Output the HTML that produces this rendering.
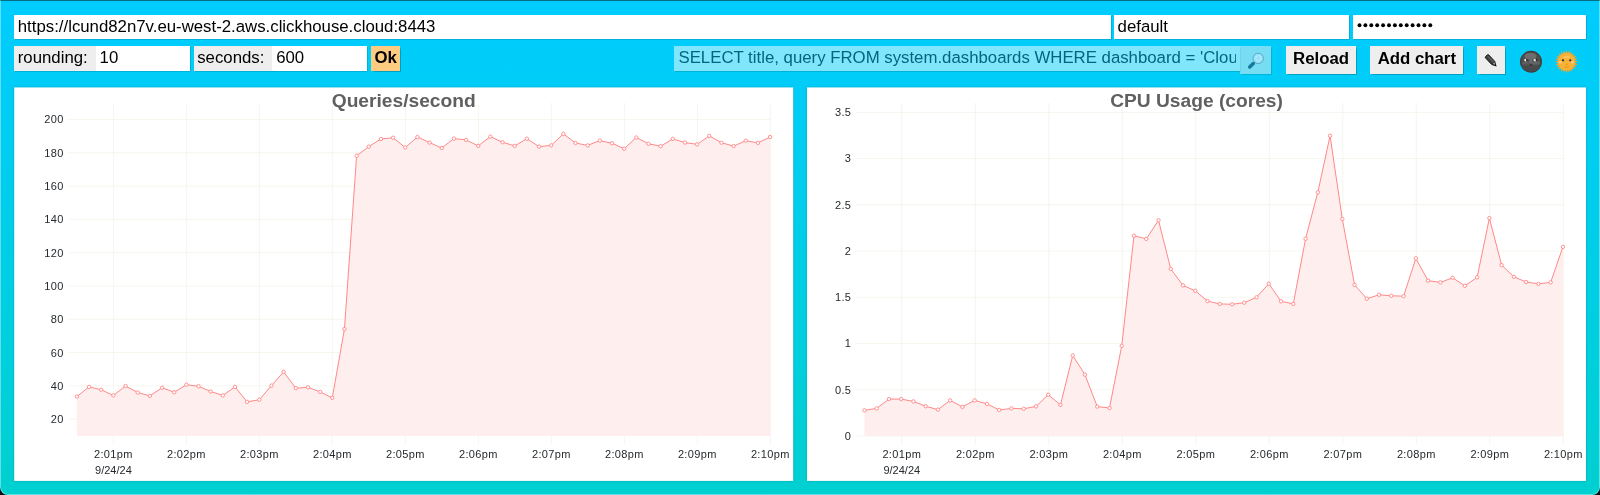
<!DOCTYPE html>
<html><head><meta charset="utf-8"><title>ClickHouse Dashboard</title>
<style>
html,body{margin:0;padding:0;}
html{background:#101010;}
body{width:1600px;height:495px;overflow:hidden;position:relative;font-family:"Liberation Sans",sans-serif;
background:linear-gradient(to bottom,#00CCFF,#00D0D0);color:#000;border-radius:0 0 8px 8px;}
.frame{left:0;top:0;width:1600px;height:495px;border-radius:0 0 8px 8px;border:1px solid rgba(255,255,255,0.38);border-top:1px solid #0b6b85;pointer-events:none;}
.abs{position:absolute;box-sizing:border-box;}
.inp{box-shadow:0.5px 0.5px 0.5px rgba(0,0,0,0.13);background:#fff;font-size:16.8px;line-height:23.2px;height:24px;padding-left:3.6px;white-space:nowrap;overflow:hidden;}
.lab{background:#eee;}
.r2{top:46.1px;height:24.5px;line-height:24.4px;}
.btn{background:#eee;font-size:16.8px;font-weight:bold;text-align:center;white-space:nowrap;height:27.5px;line-height:26.8px;top:46.1px;box-shadow:0.5px 0.5px 1px rgba(0,0,0,0.22);}
svg{position:absolute;left:0;top:0;}
body{filter:opacity(1);}
.ax{font-family:"Liberation Sans",sans-serif;font-size:11px;fill:#252a2d;}
.ttl{font-family:"Liberation Sans",sans-serif;font-size:19.2px;font-weight:bold;fill:#606060;}
</style></head><body>
<div class="abs frame"></div>
<div class="abs inp" style="left:14.2px;top:15px;width:1096.8px">https://lcund82n7v.eu-west-2.aws.clickhouse.cloud:8443</div>
<div class="abs inp" style="left:1114px;top:15px;width:235.4px">default</div>
<div class="abs inp" style="left:1353px;top:15px;width:233px"></div>
<div class="abs inp lab r2" style="left:14.2px;width:82px">rounding:</div>
<div class="abs inp r2" style="left:96px;width:94.3px;padding-left:3.6px">10</div>
<div class="abs inp lab r2" style="left:193.6px;width:79px">seconds:</div>
<div class="abs inp r2" style="left:272.4px;width:94.7px;padding-left:3.8px">600</div>
<div class="abs btn" style="left:371px;width:29.3px;height:24.5px;line-height:23.5px;background:#FFCB80">Ok</div>
<div class="abs inp r2" style="left:674.1px;width:566.2px;background:rgba(255,255,255,0.5);color:#006680;padding-left:4.4px"><span style="display:block;width:557.6px;overflow:hidden">SELECT title, query FROM system.dashboards WHERE dashboard = 'Clou</span></div>
<div class="abs" style="left:1240.3px;top:46.1px;width:30.7px;height:27.5px;background:rgba(238,238,238,0.5);box-shadow:0.5px 0.5px 1px rgba(0,0,0,0.12)"></div>
<div class="abs btn" style="left:1286px;width:70.2px">Reload</div>
<div class="abs btn" style="left:1370.4px;width:92.9px">Add chart</div>
<div class="abs btn" style="left:1477px;width:28.1px"></div>
<svg width="1600" height="495" viewBox="0 0 1600 495">
<defs><filter id="sh" x="-2%" y="-2%" width="104%" height="104%"><feGaussianBlur stdDeviation="0.9"/></filter></defs>
<rect x="14.2" y="87.4" width="779" height="393.5" fill="#000" opacity="0.22" filter="url(#sh)"/>
<rect x="807" y="87.4" width="779" height="393.5" fill="#000" opacity="0.22" filter="url(#sh)"/>
<rect x="14.2" y="87.4" width="779" height="393.5" fill="#fff"/>
<rect x="807" y="87.4" width="779" height="393.5" fill="#fff"/>
<line x1="68.40" y1="119.50" x2="770.31" y2="119.50" stroke="#f6f6ee" stroke-width="1"/>
<line x1="68.40" y1="152.80" x2="770.31" y2="152.80" stroke="#f6f6ee" stroke-width="1"/>
<line x1="68.40" y1="186.10" x2="770.31" y2="186.10" stroke="#f6f6ee" stroke-width="1"/>
<line x1="68.40" y1="219.40" x2="770.31" y2="219.40" stroke="#f6f6ee" stroke-width="1"/>
<line x1="68.40" y1="252.70" x2="770.31" y2="252.70" stroke="#f6f6ee" stroke-width="1"/>
<line x1="68.40" y1="286.00" x2="770.31" y2="286.00" stroke="#f6f6ee" stroke-width="1"/>
<line x1="68.40" y1="319.30" x2="770.31" y2="319.30" stroke="#f6f6ee" stroke-width="1"/>
<line x1="68.40" y1="352.60" x2="770.31" y2="352.60" stroke="#f6f6ee" stroke-width="1"/>
<line x1="68.40" y1="385.90" x2="770.31" y2="385.90" stroke="#f6f6ee" stroke-width="1"/>
<line x1="68.40" y1="419.20" x2="770.31" y2="419.20" stroke="#f6f6ee" stroke-width="1"/>
<line x1="113.40" y1="102.7" x2="113.40" y2="444.3" stroke="#f6f6ee" stroke-width="1"/>
<line x1="186.39" y1="102.7" x2="186.39" y2="444.3" stroke="#f6f6ee" stroke-width="1"/>
<line x1="259.38" y1="102.7" x2="259.38" y2="444.3" stroke="#f6f6ee" stroke-width="1"/>
<line x1="332.37" y1="102.7" x2="332.37" y2="444.3" stroke="#f6f6ee" stroke-width="1"/>
<line x1="405.36" y1="102.7" x2="405.36" y2="444.3" stroke="#f6f6ee" stroke-width="1"/>
<line x1="478.35" y1="102.7" x2="478.35" y2="444.3" stroke="#f6f6ee" stroke-width="1"/>
<line x1="551.34" y1="102.7" x2="551.34" y2="444.3" stroke="#f6f6ee" stroke-width="1"/>
<line x1="624.33" y1="102.7" x2="624.33" y2="444.3" stroke="#f6f6ee" stroke-width="1"/>
<line x1="697.32" y1="102.7" x2="697.32" y2="444.3" stroke="#f6f6ee" stroke-width="1"/>
<line x1="770.31" y1="102.7" x2="770.31" y2="444.3" stroke="#f6f6ee" stroke-width="1"/>
<polygon points="76.90,436.0 76.90,396.60 89.06,386.90 101.22,389.75 113.38,395.40 125.55,386.00 137.71,392.50 149.87,395.90 162.03,387.75 174.19,392.25 186.35,384.75 198.51,386.25 210.68,391.50 222.84,395.40 235.00,386.90 247.16,401.90 259.32,399.70 271.48,385.60 283.64,371.80 295.81,388.20 307.97,387.30 320.13,391.90 332.29,397.90 344.45,329.10 356.61,155.75 368.77,146.60 380.94,139.00 393.10,137.75 405.26,147.50 417.42,137.00 429.58,142.60 441.74,148.00 453.90,138.60 466.06,139.90 478.23,145.90 490.39,136.60 502.55,142.25 514.71,145.90 526.87,138.70 539.03,146.60 551.19,145.40 563.36,133.90 575.52,143.00 587.68,145.40 599.84,140.60 612.00,143.25 624.16,148.75 636.32,137.50 648.49,143.80 660.65,146.20 672.81,138.90 684.97,142.60 697.13,144.35 709.29,135.90 721.45,142.70 733.62,146.10 745.78,140.70 757.94,142.85 770.10,137.00 770.10,436.0" fill="#ffeeee"/>
<polyline points="76.90,396.60 89.06,386.90 101.22,389.75 113.38,395.40 125.55,386.00 137.71,392.50 149.87,395.90 162.03,387.75 174.19,392.25 186.35,384.75 198.51,386.25 210.68,391.50 222.84,395.40 235.00,386.90 247.16,401.90 259.32,399.70 271.48,385.60 283.64,371.80 295.81,388.20 307.97,387.30 320.13,391.90 332.29,397.90 344.45,329.10 356.61,155.75 368.77,146.60 380.94,139.00 393.10,137.75 405.26,147.50 417.42,137.00 429.58,142.60 441.74,148.00 453.90,138.60 466.06,139.90 478.23,145.90 490.39,136.60 502.55,142.25 514.71,145.90 526.87,138.70 539.03,146.60 551.19,145.40 563.36,133.90 575.52,143.00 587.68,145.40 599.84,140.60 612.00,143.25 624.16,148.75 636.32,137.50 648.49,143.80 660.65,146.20 672.81,138.90 684.97,142.60 697.13,144.35 709.29,135.90 721.45,142.70 733.62,146.10 745.78,140.70 757.94,142.85 770.10,137.00" fill="none" stroke="#ff8888" stroke-width="1" stroke-linejoin="round"/>
<circle cx="76.90" cy="396.60" r="1.7" fill="#fff" stroke="#ff8888" stroke-width="0.9"/>
<circle cx="89.06" cy="386.90" r="1.7" fill="#fff" stroke="#ff8888" stroke-width="0.9"/>
<circle cx="101.22" cy="389.75" r="1.7" fill="#fff" stroke="#ff8888" stroke-width="0.9"/>
<circle cx="113.38" cy="395.40" r="1.7" fill="#fff" stroke="#ff8888" stroke-width="0.9"/>
<circle cx="125.55" cy="386.00" r="1.7" fill="#fff" stroke="#ff8888" stroke-width="0.9"/>
<circle cx="137.71" cy="392.50" r="1.7" fill="#fff" stroke="#ff8888" stroke-width="0.9"/>
<circle cx="149.87" cy="395.90" r="1.7" fill="#fff" stroke="#ff8888" stroke-width="0.9"/>
<circle cx="162.03" cy="387.75" r="1.7" fill="#fff" stroke="#ff8888" stroke-width="0.9"/>
<circle cx="174.19" cy="392.25" r="1.7" fill="#fff" stroke="#ff8888" stroke-width="0.9"/>
<circle cx="186.35" cy="384.75" r="1.7" fill="#fff" stroke="#ff8888" stroke-width="0.9"/>
<circle cx="198.51" cy="386.25" r="1.7" fill="#fff" stroke="#ff8888" stroke-width="0.9"/>
<circle cx="210.68" cy="391.50" r="1.7" fill="#fff" stroke="#ff8888" stroke-width="0.9"/>
<circle cx="222.84" cy="395.40" r="1.7" fill="#fff" stroke="#ff8888" stroke-width="0.9"/>
<circle cx="235.00" cy="386.90" r="1.7" fill="#fff" stroke="#ff8888" stroke-width="0.9"/>
<circle cx="247.16" cy="401.90" r="1.7" fill="#fff" stroke="#ff8888" stroke-width="0.9"/>
<circle cx="259.32" cy="399.70" r="1.7" fill="#fff" stroke="#ff8888" stroke-width="0.9"/>
<circle cx="271.48" cy="385.60" r="1.7" fill="#fff" stroke="#ff8888" stroke-width="0.9"/>
<circle cx="283.64" cy="371.80" r="1.7" fill="#fff" stroke="#ff8888" stroke-width="0.9"/>
<circle cx="295.81" cy="388.20" r="1.7" fill="#fff" stroke="#ff8888" stroke-width="0.9"/>
<circle cx="307.97" cy="387.30" r="1.7" fill="#fff" stroke="#ff8888" stroke-width="0.9"/>
<circle cx="320.13" cy="391.90" r="1.7" fill="#fff" stroke="#ff8888" stroke-width="0.9"/>
<circle cx="332.29" cy="397.90" r="1.7" fill="#fff" stroke="#ff8888" stroke-width="0.9"/>
<circle cx="344.45" cy="329.10" r="1.7" fill="#fff" stroke="#ff8888" stroke-width="0.9"/>
<circle cx="356.61" cy="155.75" r="1.7" fill="#fff" stroke="#ff8888" stroke-width="0.9"/>
<circle cx="368.77" cy="146.60" r="1.7" fill="#fff" stroke="#ff8888" stroke-width="0.9"/>
<circle cx="380.94" cy="139.00" r="1.7" fill="#fff" stroke="#ff8888" stroke-width="0.9"/>
<circle cx="393.10" cy="137.75" r="1.7" fill="#fff" stroke="#ff8888" stroke-width="0.9"/>
<circle cx="405.26" cy="147.50" r="1.7" fill="#fff" stroke="#ff8888" stroke-width="0.9"/>
<circle cx="417.42" cy="137.00" r="1.7" fill="#fff" stroke="#ff8888" stroke-width="0.9"/>
<circle cx="429.58" cy="142.60" r="1.7" fill="#fff" stroke="#ff8888" stroke-width="0.9"/>
<circle cx="441.74" cy="148.00" r="1.7" fill="#fff" stroke="#ff8888" stroke-width="0.9"/>
<circle cx="453.90" cy="138.60" r="1.7" fill="#fff" stroke="#ff8888" stroke-width="0.9"/>
<circle cx="466.06" cy="139.90" r="1.7" fill="#fff" stroke="#ff8888" stroke-width="0.9"/>
<circle cx="478.23" cy="145.90" r="1.7" fill="#fff" stroke="#ff8888" stroke-width="0.9"/>
<circle cx="490.39" cy="136.60" r="1.7" fill="#fff" stroke="#ff8888" stroke-width="0.9"/>
<circle cx="502.55" cy="142.25" r="1.7" fill="#fff" stroke="#ff8888" stroke-width="0.9"/>
<circle cx="514.71" cy="145.90" r="1.7" fill="#fff" stroke="#ff8888" stroke-width="0.9"/>
<circle cx="526.87" cy="138.70" r="1.7" fill="#fff" stroke="#ff8888" stroke-width="0.9"/>
<circle cx="539.03" cy="146.60" r="1.7" fill="#fff" stroke="#ff8888" stroke-width="0.9"/>
<circle cx="551.19" cy="145.40" r="1.7" fill="#fff" stroke="#ff8888" stroke-width="0.9"/>
<circle cx="563.36" cy="133.90" r="1.7" fill="#fff" stroke="#ff8888" stroke-width="0.9"/>
<circle cx="575.52" cy="143.00" r="1.7" fill="#fff" stroke="#ff8888" stroke-width="0.9"/>
<circle cx="587.68" cy="145.40" r="1.7" fill="#fff" stroke="#ff8888" stroke-width="0.9"/>
<circle cx="599.84" cy="140.60" r="1.7" fill="#fff" stroke="#ff8888" stroke-width="0.9"/>
<circle cx="612.00" cy="143.25" r="1.7" fill="#fff" stroke="#ff8888" stroke-width="0.9"/>
<circle cx="624.16" cy="148.75" r="1.7" fill="#fff" stroke="#ff8888" stroke-width="0.9"/>
<circle cx="636.32" cy="137.50" r="1.7" fill="#fff" stroke="#ff8888" stroke-width="0.9"/>
<circle cx="648.49" cy="143.80" r="1.7" fill="#fff" stroke="#ff8888" stroke-width="0.9"/>
<circle cx="660.65" cy="146.20" r="1.7" fill="#fff" stroke="#ff8888" stroke-width="0.9"/>
<circle cx="672.81" cy="138.90" r="1.7" fill="#fff" stroke="#ff8888" stroke-width="0.9"/>
<circle cx="684.97" cy="142.60" r="1.7" fill="#fff" stroke="#ff8888" stroke-width="0.9"/>
<circle cx="697.13" cy="144.35" r="1.7" fill="#fff" stroke="#ff8888" stroke-width="0.9"/>
<circle cx="709.29" cy="135.90" r="1.7" fill="#fff" stroke="#ff8888" stroke-width="0.9"/>
<circle cx="721.45" cy="142.70" r="1.7" fill="#fff" stroke="#ff8888" stroke-width="0.9"/>
<circle cx="733.62" cy="146.10" r="1.7" fill="#fff" stroke="#ff8888" stroke-width="0.9"/>
<circle cx="745.78" cy="140.70" r="1.7" fill="#fff" stroke="#ff8888" stroke-width="0.9"/>
<circle cx="757.94" cy="142.85" r="1.7" fill="#fff" stroke="#ff8888" stroke-width="0.9"/>
<circle cx="770.10" cy="137.00" r="1.7" fill="#fff" stroke="#ff8888" stroke-width="0.9"/>
<text x="63.6" y="123.40" text-anchor="end" class="ax" letter-spacing="0.3">200</text>
<text x="63.6" y="156.70" text-anchor="end" class="ax" letter-spacing="0.3">180</text>
<text x="63.6" y="190.00" text-anchor="end" class="ax" letter-spacing="0.3">160</text>
<text x="63.6" y="223.30" text-anchor="end" class="ax" letter-spacing="0.3">140</text>
<text x="63.6" y="256.60" text-anchor="end" class="ax" letter-spacing="0.3">120</text>
<text x="63.6" y="289.90" text-anchor="end" class="ax" letter-spacing="0.3">100</text>
<text x="63.6" y="323.20" text-anchor="end" class="ax" letter-spacing="0.3">80</text>
<text x="63.6" y="356.50" text-anchor="end" class="ax" letter-spacing="0.3">60</text>
<text x="63.6" y="389.80" text-anchor="end" class="ax" letter-spacing="0.3">40</text>
<text x="63.6" y="423.10" text-anchor="end" class="ax" letter-spacing="0.3">20</text>
<text x="113.40" y="458" text-anchor="middle" class="ax" letter-spacing="0.35">2:01pm</text>
<text x="186.39" y="458" text-anchor="middle" class="ax" letter-spacing="0.35">2:02pm</text>
<text x="259.38" y="458" text-anchor="middle" class="ax" letter-spacing="0.35">2:03pm</text>
<text x="332.37" y="458" text-anchor="middle" class="ax" letter-spacing="0.35">2:04pm</text>
<text x="405.36" y="458" text-anchor="middle" class="ax" letter-spacing="0.35">2:05pm</text>
<text x="478.35" y="458" text-anchor="middle" class="ax" letter-spacing="0.35">2:06pm</text>
<text x="551.34" y="458" text-anchor="middle" class="ax" letter-spacing="0.35">2:07pm</text>
<text x="624.33" y="458" text-anchor="middle" class="ax" letter-spacing="0.35">2:08pm</text>
<text x="697.32" y="458" text-anchor="middle" class="ax" letter-spacing="0.35">2:09pm</text>
<text x="770.31" y="458" text-anchor="middle" class="ax" letter-spacing="0.35">2:10pm</text>
<text x="113.40" y="474.3" text-anchor="middle" class="ax">9/24/24</text>
<text x="403.7" y="106.7" text-anchor="middle" class="ttl">Queries/second</text>
<line x1="855.50" y1="436.00" x2="1563.30" y2="436.00" stroke="#f6f6ee" stroke-width="1"/>
<line x1="855.50" y1="389.76" x2="1563.30" y2="389.76" stroke="#f6f6ee" stroke-width="1"/>
<line x1="855.50" y1="343.52" x2="1563.30" y2="343.52" stroke="#f6f6ee" stroke-width="1"/>
<line x1="855.50" y1="297.28" x2="1563.30" y2="297.28" stroke="#f6f6ee" stroke-width="1"/>
<line x1="855.50" y1="251.04" x2="1563.30" y2="251.04" stroke="#f6f6ee" stroke-width="1"/>
<line x1="855.50" y1="204.80" x2="1563.30" y2="204.80" stroke="#f6f6ee" stroke-width="1"/>
<line x1="855.50" y1="158.56" x2="1563.30" y2="158.56" stroke="#f6f6ee" stroke-width="1"/>
<line x1="855.50" y1="112.32" x2="1563.30" y2="112.32" stroke="#f6f6ee" stroke-width="1"/>
<line x1="901.80" y1="102.7" x2="901.80" y2="444.3" stroke="#f6f6ee" stroke-width="1"/>
<line x1="975.30" y1="102.7" x2="975.30" y2="444.3" stroke="#f6f6ee" stroke-width="1"/>
<line x1="1048.80" y1="102.7" x2="1048.80" y2="444.3" stroke="#f6f6ee" stroke-width="1"/>
<line x1="1122.30" y1="102.7" x2="1122.30" y2="444.3" stroke="#f6f6ee" stroke-width="1"/>
<line x1="1195.80" y1="102.7" x2="1195.80" y2="444.3" stroke="#f6f6ee" stroke-width="1"/>
<line x1="1269.30" y1="102.7" x2="1269.30" y2="444.3" stroke="#f6f6ee" stroke-width="1"/>
<line x1="1342.80" y1="102.7" x2="1342.80" y2="444.3" stroke="#f6f6ee" stroke-width="1"/>
<line x1="1416.30" y1="102.7" x2="1416.30" y2="444.3" stroke="#f6f6ee" stroke-width="1"/>
<line x1="1489.80" y1="102.7" x2="1489.80" y2="444.3" stroke="#f6f6ee" stroke-width="1"/>
<line x1="1563.30" y1="102.7" x2="1563.30" y2="444.3" stroke="#f6f6ee" stroke-width="1"/>
<polygon points="864.40,436.0 864.40,410.40 876.65,408.40 888.91,399.10 901.16,399.10 913.42,401.40 925.67,406.25 937.93,409.60 950.18,400.40 962.44,406.90 974.69,400.40 986.94,403.90 999.20,410.00 1011.45,408.40 1023.71,408.75 1035.96,406.40 1048.22,394.70 1060.47,404.90 1072.72,355.50 1084.98,374.70 1097.23,406.60 1109.49,408.00 1121.74,345.80 1134.00,235.70 1146.25,238.90 1158.51,220.30 1170.76,269.00 1183.01,285.40 1195.27,290.80 1207.52,301.10 1219.78,303.90 1232.03,304.30 1244.29,302.70 1256.54,297.30 1268.79,283.70 1281.05,301.30 1293.30,303.90 1305.56,238.80 1317.81,192.30 1330.07,135.70 1342.32,219.10 1354.58,284.90 1366.83,298.70 1379.08,294.80 1391.34,295.80 1403.59,296.20 1415.85,258.40 1428.10,280.70 1440.36,282.40 1452.61,277.80 1464.86,285.80 1477.12,277.40 1489.37,218.10 1501.63,265.10 1513.88,276.80 1526.14,282.00 1538.39,283.80 1550.65,282.40 1562.90,246.90 1562.90,436.0" fill="#ffeeee"/>
<polyline points="864.40,410.40 876.65,408.40 888.91,399.10 901.16,399.10 913.42,401.40 925.67,406.25 937.93,409.60 950.18,400.40 962.44,406.90 974.69,400.40 986.94,403.90 999.20,410.00 1011.45,408.40 1023.71,408.75 1035.96,406.40 1048.22,394.70 1060.47,404.90 1072.72,355.50 1084.98,374.70 1097.23,406.60 1109.49,408.00 1121.74,345.80 1134.00,235.70 1146.25,238.90 1158.51,220.30 1170.76,269.00 1183.01,285.40 1195.27,290.80 1207.52,301.10 1219.78,303.90 1232.03,304.30 1244.29,302.70 1256.54,297.30 1268.79,283.70 1281.05,301.30 1293.30,303.90 1305.56,238.80 1317.81,192.30 1330.07,135.70 1342.32,219.10 1354.58,284.90 1366.83,298.70 1379.08,294.80 1391.34,295.80 1403.59,296.20 1415.85,258.40 1428.10,280.70 1440.36,282.40 1452.61,277.80 1464.86,285.80 1477.12,277.40 1489.37,218.10 1501.63,265.10 1513.88,276.80 1526.14,282.00 1538.39,283.80 1550.65,282.40 1562.90,246.90" fill="none" stroke="#ff8888" stroke-width="1" stroke-linejoin="round"/>
<circle cx="864.40" cy="410.40" r="1.7" fill="#fff" stroke="#ff8888" stroke-width="0.9"/>
<circle cx="876.65" cy="408.40" r="1.7" fill="#fff" stroke="#ff8888" stroke-width="0.9"/>
<circle cx="888.91" cy="399.10" r="1.7" fill="#fff" stroke="#ff8888" stroke-width="0.9"/>
<circle cx="901.16" cy="399.10" r="1.7" fill="#fff" stroke="#ff8888" stroke-width="0.9"/>
<circle cx="913.42" cy="401.40" r="1.7" fill="#fff" stroke="#ff8888" stroke-width="0.9"/>
<circle cx="925.67" cy="406.25" r="1.7" fill="#fff" stroke="#ff8888" stroke-width="0.9"/>
<circle cx="937.93" cy="409.60" r="1.7" fill="#fff" stroke="#ff8888" stroke-width="0.9"/>
<circle cx="950.18" cy="400.40" r="1.7" fill="#fff" stroke="#ff8888" stroke-width="0.9"/>
<circle cx="962.44" cy="406.90" r="1.7" fill="#fff" stroke="#ff8888" stroke-width="0.9"/>
<circle cx="974.69" cy="400.40" r="1.7" fill="#fff" stroke="#ff8888" stroke-width="0.9"/>
<circle cx="986.94" cy="403.90" r="1.7" fill="#fff" stroke="#ff8888" stroke-width="0.9"/>
<circle cx="999.20" cy="410.00" r="1.7" fill="#fff" stroke="#ff8888" stroke-width="0.9"/>
<circle cx="1011.45" cy="408.40" r="1.7" fill="#fff" stroke="#ff8888" stroke-width="0.9"/>
<circle cx="1023.71" cy="408.75" r="1.7" fill="#fff" stroke="#ff8888" stroke-width="0.9"/>
<circle cx="1035.96" cy="406.40" r="1.7" fill="#fff" stroke="#ff8888" stroke-width="0.9"/>
<circle cx="1048.22" cy="394.70" r="1.7" fill="#fff" stroke="#ff8888" stroke-width="0.9"/>
<circle cx="1060.47" cy="404.90" r="1.7" fill="#fff" stroke="#ff8888" stroke-width="0.9"/>
<circle cx="1072.72" cy="355.50" r="1.7" fill="#fff" stroke="#ff8888" stroke-width="0.9"/>
<circle cx="1084.98" cy="374.70" r="1.7" fill="#fff" stroke="#ff8888" stroke-width="0.9"/>
<circle cx="1097.23" cy="406.60" r="1.7" fill="#fff" stroke="#ff8888" stroke-width="0.9"/>
<circle cx="1109.49" cy="408.00" r="1.7" fill="#fff" stroke="#ff8888" stroke-width="0.9"/>
<circle cx="1121.74" cy="345.80" r="1.7" fill="#fff" stroke="#ff8888" stroke-width="0.9"/>
<circle cx="1134.00" cy="235.70" r="1.7" fill="#fff" stroke="#ff8888" stroke-width="0.9"/>
<circle cx="1146.25" cy="238.90" r="1.7" fill="#fff" stroke="#ff8888" stroke-width="0.9"/>
<circle cx="1158.51" cy="220.30" r="1.7" fill="#fff" stroke="#ff8888" stroke-width="0.9"/>
<circle cx="1170.76" cy="269.00" r="1.7" fill="#fff" stroke="#ff8888" stroke-width="0.9"/>
<circle cx="1183.01" cy="285.40" r="1.7" fill="#fff" stroke="#ff8888" stroke-width="0.9"/>
<circle cx="1195.27" cy="290.80" r="1.7" fill="#fff" stroke="#ff8888" stroke-width="0.9"/>
<circle cx="1207.52" cy="301.10" r="1.7" fill="#fff" stroke="#ff8888" stroke-width="0.9"/>
<circle cx="1219.78" cy="303.90" r="1.7" fill="#fff" stroke="#ff8888" stroke-width="0.9"/>
<circle cx="1232.03" cy="304.30" r="1.7" fill="#fff" stroke="#ff8888" stroke-width="0.9"/>
<circle cx="1244.29" cy="302.70" r="1.7" fill="#fff" stroke="#ff8888" stroke-width="0.9"/>
<circle cx="1256.54" cy="297.30" r="1.7" fill="#fff" stroke="#ff8888" stroke-width="0.9"/>
<circle cx="1268.79" cy="283.70" r="1.7" fill="#fff" stroke="#ff8888" stroke-width="0.9"/>
<circle cx="1281.05" cy="301.30" r="1.7" fill="#fff" stroke="#ff8888" stroke-width="0.9"/>
<circle cx="1293.30" cy="303.90" r="1.7" fill="#fff" stroke="#ff8888" stroke-width="0.9"/>
<circle cx="1305.56" cy="238.80" r="1.7" fill="#fff" stroke="#ff8888" stroke-width="0.9"/>
<circle cx="1317.81" cy="192.30" r="1.7" fill="#fff" stroke="#ff8888" stroke-width="0.9"/>
<circle cx="1330.07" cy="135.70" r="1.7" fill="#fff" stroke="#ff8888" stroke-width="0.9"/>
<circle cx="1342.32" cy="219.10" r="1.7" fill="#fff" stroke="#ff8888" stroke-width="0.9"/>
<circle cx="1354.58" cy="284.90" r="1.7" fill="#fff" stroke="#ff8888" stroke-width="0.9"/>
<circle cx="1366.83" cy="298.70" r="1.7" fill="#fff" stroke="#ff8888" stroke-width="0.9"/>
<circle cx="1379.08" cy="294.80" r="1.7" fill="#fff" stroke="#ff8888" stroke-width="0.9"/>
<circle cx="1391.34" cy="295.80" r="1.7" fill="#fff" stroke="#ff8888" stroke-width="0.9"/>
<circle cx="1403.59" cy="296.20" r="1.7" fill="#fff" stroke="#ff8888" stroke-width="0.9"/>
<circle cx="1415.85" cy="258.40" r="1.7" fill="#fff" stroke="#ff8888" stroke-width="0.9"/>
<circle cx="1428.10" cy="280.70" r="1.7" fill="#fff" stroke="#ff8888" stroke-width="0.9"/>
<circle cx="1440.36" cy="282.40" r="1.7" fill="#fff" stroke="#ff8888" stroke-width="0.9"/>
<circle cx="1452.61" cy="277.80" r="1.7" fill="#fff" stroke="#ff8888" stroke-width="0.9"/>
<circle cx="1464.86" cy="285.80" r="1.7" fill="#fff" stroke="#ff8888" stroke-width="0.9"/>
<circle cx="1477.12" cy="277.40" r="1.7" fill="#fff" stroke="#ff8888" stroke-width="0.9"/>
<circle cx="1489.37" cy="218.10" r="1.7" fill="#fff" stroke="#ff8888" stroke-width="0.9"/>
<circle cx="1501.63" cy="265.10" r="1.7" fill="#fff" stroke="#ff8888" stroke-width="0.9"/>
<circle cx="1513.88" cy="276.80" r="1.7" fill="#fff" stroke="#ff8888" stroke-width="0.9"/>
<circle cx="1526.14" cy="282.00" r="1.7" fill="#fff" stroke="#ff8888" stroke-width="0.9"/>
<circle cx="1538.39" cy="283.80" r="1.7" fill="#fff" stroke="#ff8888" stroke-width="0.9"/>
<circle cx="1550.65" cy="282.40" r="1.7" fill="#fff" stroke="#ff8888" stroke-width="0.9"/>
<circle cx="1562.90" cy="246.90" r="1.7" fill="#fff" stroke="#ff8888" stroke-width="0.9"/>
<text x="851.2" y="439.90" text-anchor="end" class="ax" letter-spacing="0.3">0</text>
<text x="851.2" y="393.66" text-anchor="end" class="ax" letter-spacing="0.3">0.5</text>
<text x="851.2" y="347.42" text-anchor="end" class="ax" letter-spacing="0.3">1</text>
<text x="851.2" y="301.18" text-anchor="end" class="ax" letter-spacing="0.3">1.5</text>
<text x="851.2" y="254.94" text-anchor="end" class="ax" letter-spacing="0.3">2</text>
<text x="851.2" y="208.70" text-anchor="end" class="ax" letter-spacing="0.3">2.5</text>
<text x="851.2" y="162.46" text-anchor="end" class="ax" letter-spacing="0.3">3</text>
<text x="851.2" y="116.22" text-anchor="end" class="ax" letter-spacing="0.3">3.5</text>
<text x="901.80" y="458" text-anchor="middle" class="ax" letter-spacing="0.35">2:01pm</text>
<text x="975.30" y="458" text-anchor="middle" class="ax" letter-spacing="0.35">2:02pm</text>
<text x="1048.80" y="458" text-anchor="middle" class="ax" letter-spacing="0.35">2:03pm</text>
<text x="1122.30" y="458" text-anchor="middle" class="ax" letter-spacing="0.35">2:04pm</text>
<text x="1195.80" y="458" text-anchor="middle" class="ax" letter-spacing="0.35">2:05pm</text>
<text x="1269.30" y="458" text-anchor="middle" class="ax" letter-spacing="0.35">2:06pm</text>
<text x="1342.80" y="458" text-anchor="middle" class="ax" letter-spacing="0.35">2:07pm</text>
<text x="1416.30" y="458" text-anchor="middle" class="ax" letter-spacing="0.35">2:08pm</text>
<text x="1489.80" y="458" text-anchor="middle" class="ax" letter-spacing="0.35">2:09pm</text>
<text x="1563.30" y="458" text-anchor="middle" class="ax" letter-spacing="0.35">2:10pm</text>
<text x="901.80" y="474.3" text-anchor="middle" class="ax">9/24/24</text>
<text x="1196.5" y="106.7" text-anchor="middle" class="ttl">CPU Usage (cores)</text>
<g>
<line x1="1254.6" y1="62.2" x2="1253" y2="63.8" stroke="#4fa3bd" stroke-width="1.6"/><line x1="1253.3" y1="63.5" x2="1249.7" y2="67.0" stroke="#167a99" stroke-width="3.5" stroke-linecap="round"/>
<circle cx="1258.2" cy="58.4" r="5.2" fill="#93e2f9" stroke="#5aaac4" stroke-width="1"/>
<circle cx="1258.4" cy="58.2" r="2.6" fill="none" stroke="#b9eefc" stroke-width="1"/>
</g>
<g transform="translate(1487.3 56.6) rotate(47)">
<rect x="-1.2" y="-2.2" width="10.2" height="4.4" rx="1.1" fill="#4a4a4a" stroke="#111" stroke-width="0.9"/>
<line x1="0.5" y1="-0.7" x2="8.8" y2="-0.7" stroke="#777" stroke-width="0.7"/>
<line x1="0.5" y1="0.8" x2="8.8" y2="0.8" stroke="#2a2a2a" stroke-width="0.7"/>
<polygon points="9,-2.5 13.6,0 9,2.5" fill="#111"/>
<polygon points="9.3,-1.2 11.2,-0.1 9.3,1.0" fill="#ddd"/>
</g>
<circle cx="1531.0" cy="61.7" r="10.9" fill="#4e4e4e"/>
<circle cx="1531.0" cy="61.7" r="10.4" fill="none" stroke="#3c3c3c" stroke-width="1"/>
<ellipse cx="1530.5" cy="56.1" rx="6" ry="3.2" fill="#6e6e6e"/>
<ellipse cx="1530.8" cy="60.2" rx="1.6" ry="3.6" fill="#6a6a6a"/>
<ellipse cx="1536.0" cy="62.900000000000006" rx="4" ry="1.6" fill="#626262"/>
<ellipse cx="1525.5" cy="62.900000000000006" rx="3.4" ry="1.5" fill="#5e5e5e"/>
<path d="M1521.5,65.2 Q1531.0,68.7 1540.5,65.2 L1539.0,68.7 Q1531.0,74.2 1523.0,68.7 Z" fill="#454a4c"/>
<ellipse cx="1525.7" cy="60.1" rx="1.5" ry="1.3" fill="#e8e8e8"/>
<ellipse cx="1535.0" cy="60.1" rx="1.5" ry="1.3" fill="#e8e8e8"/>
<circle cx="1526.8" cy="60.0" r="0.9" fill="#222"/>
<circle cx="1536.4" cy="59.800000000000004" r="0.9" fill="#111"/>
<ellipse cx="1531.0" cy="65.3" rx="1.3" ry="0.7" fill="#2a2a2a"/>
<polygon points="1566.50,50.20 1567.60,53.37 1569.48,50.59 1569.71,53.94 1572.25,51.74 1571.61,55.04 1574.63,53.57 1573.16,56.59 1576.46,55.95 1574.26,58.49 1577.61,58.72 1574.83,60.60 1578.00,61.70 1574.83,62.80 1577.61,64.68 1574.26,64.91 1576.46,67.45 1573.16,66.81 1574.63,69.83 1571.61,68.36 1572.25,71.66 1569.71,69.46 1569.48,72.81 1567.60,70.03 1566.50,73.20 1565.40,70.03 1563.52,72.81 1563.29,69.46 1560.75,71.66 1561.39,68.36 1558.37,69.83 1559.84,66.81 1556.54,67.45 1558.74,64.91 1555.39,64.68 1558.17,62.80 1555.00,61.70 1558.17,60.60 1555.39,58.72 1558.74,58.49 1556.54,55.95 1559.84,56.59 1558.37,53.57 1561.39,55.04 1560.75,51.74 1563.29,53.94 1563.52,50.59 1565.40,53.37" fill="#f7a62b"/>
<circle cx="1566.5" cy="61.7" r="8.6" fill="#f9b233"/>
<ellipse cx="1560.5" cy="62.300000000000004" rx="1.7" ry="1.3" fill="#fbc98a"/>
<ellipse cx="1572.5" cy="62.300000000000004" rx="1.7" ry="1.3" fill="#fbc98a"/>
<ellipse cx="1566.5" cy="57.1" rx="3.6" ry="1.2" fill="#fbc060"/>
<circle cx="1563.0" cy="60.300000000000004" r="1.15" fill="#2b2b3a"/>
<circle cx="1570.2" cy="60.300000000000004" r="1.15" fill="#2b2b3a"/>
<path d="M1564.9,63.7 L1568.1,63.7 L1566.5,65.9 Z" fill="#ec9a22"/>
<path d="M1563.9,66.7 Q1566.5,68.7 1569.1,66.7" fill="none" stroke="#e8921c" stroke-width="0.8"/>
<circle cx="1359.50" cy="25.2" r="1.95" fill="#000"/>
<circle cx="1365.40" cy="25.2" r="1.95" fill="#000"/>
<circle cx="1371.30" cy="25.2" r="1.95" fill="#000"/>
<circle cx="1377.20" cy="25.2" r="1.95" fill="#000"/>
<circle cx="1383.10" cy="25.2" r="1.95" fill="#000"/>
<circle cx="1389.00" cy="25.2" r="1.95" fill="#000"/>
<circle cx="1394.90" cy="25.2" r="1.95" fill="#000"/>
<circle cx="1400.80" cy="25.2" r="1.95" fill="#000"/>
<circle cx="1406.70" cy="25.2" r="1.95" fill="#000"/>
<circle cx="1412.60" cy="25.2" r="1.95" fill="#000"/>
<circle cx="1418.50" cy="25.2" r="1.95" fill="#000"/>
<circle cx="1424.40" cy="25.2" r="1.95" fill="#000"/>
<circle cx="1430.30" cy="25.2" r="1.95" fill="#000"/>
</svg>
</body></html>
